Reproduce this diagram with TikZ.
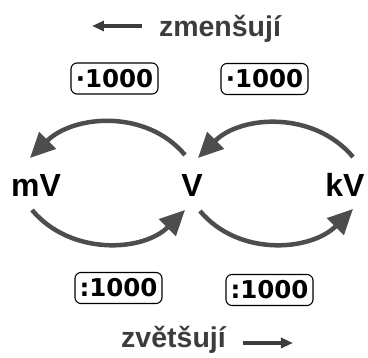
\documentclass[tikz,border=0pt]{standalone}
\usepackage{fontspec}
\setmainfont{Liberation Sans}
\newfontfamily\numfont{DejaVu Sans}
\usetikzlibrary{arrows.meta}
\definecolor{arcgray}{HTML}{4D4D4D}
\definecolor{txtgray}{HTML}{3C3C3C}
\begin{document}
\begin{tikzpicture}[x=1pt,y=1pt,
  unit/.style={font=\fontsize{32}{36}\selectfont\bfseries, inner sep=0pt, text=black},
  numbox/.style={draw=black, line width=1.1pt, rounded corners=6pt, minimum width=87pt, minimum height=31pt, inner sep=0pt, font=\numfont\bfseries\fontsize{24.5}{28}\selectfont},
  dirtext/.style={font=\fontsize{28.5}{32}\selectfont\bfseries, text=txtgray, inner sep=0pt, anchor=base},
  arc/.style={draw=arcgray, line width=4.5pt, -{Triangle[length=25pt,width=23pt]}},
  dirarrow/.style={draw=txtgray, line width=3.6pt, -{Triangle[length=12pt,width=10pt]}}]
\useasboundingbox (0,0) rectangle (368,-358);

% direction texts
\node[dirtext] (zm) at (220,-37) {zmenšují};
\node[dirtext] (zv) at (173.5,-348) {zvětšují};
\coordinate (zmA) at (142,-26);
\coordinate (zmB) at (92,-26);
\coordinate (zvA) at (243,-343);
\coordinate (zvB) at (293,-343);
\draw[dirarrow] (zmA) -- (zmB);
\draw[dirarrow] (zvA) -- (zvB);

% factor boxes
\node[numbox] (m1) at (114.5,-78.5) {·1000};
\node[numbox] (m2) at (264.5,-79) {·1000};
\node[numbox] (d1) at (118.5,-288) {:1000};
\node[numbox] (d2) at (269.5,-290) {:1000};

% units
\node[unit] (mV) at (36,-185) {mV};
\node[unit] (V) at (192,-185) {V};
\node[unit] (kV) at (345,-185) {kV};

% arcs
\draw[arc] ([shift={(-7,30)}]V.center) to[out=130,in=45] ([shift={(-6,27)}]mV.center);
\draw[arc] ([shift={(8,28)}]kV.center) to[out=130,in=45] ([shift={(6,27)}]V.center);
\draw[arc] ([shift={(-4,-25)}]mV.center) to[out=-50,in=225] ([shift={(-7,-25)}]V.center);
\draw[arc] ([shift={(8,-26)}]V.center) to[out=-50,in=225] ([shift={(8,-24)}]kV.center);
\end{tikzpicture}
\end{document}
